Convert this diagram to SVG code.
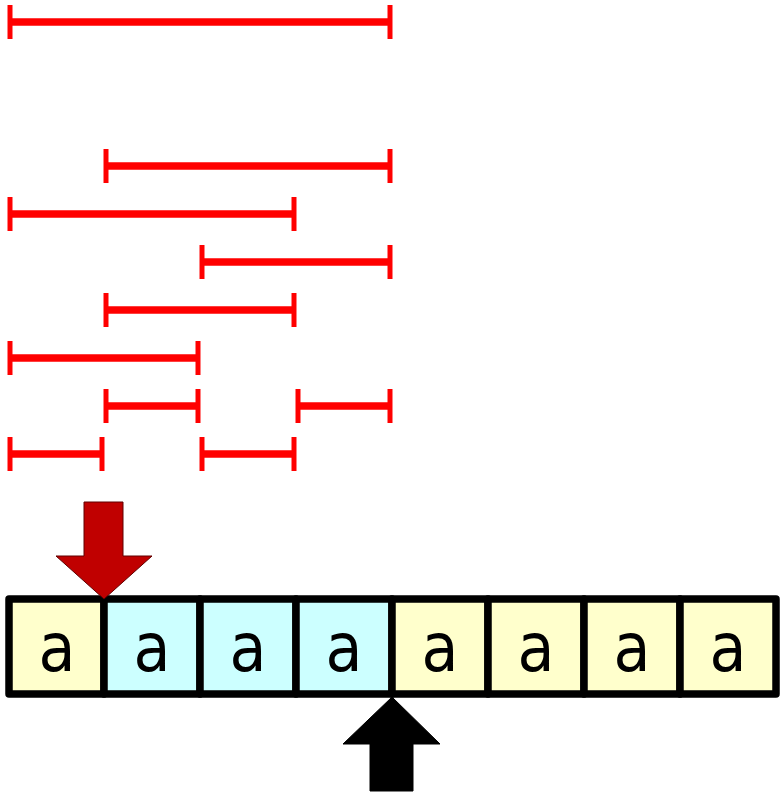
<svg xmlns="http://www.w3.org/2000/svg" width="780" height="795" viewBox="0 0 780 795">
<style>
.seg{stroke:#ff0000;stroke-width:7.5;fill:none}
.tick{stroke:#ff0000;stroke-width:5;fill:none}
.cell{stroke:#000;stroke-width:7.5;stroke-linejoin:round}
.y{fill:#ffffcc}
.c{fill:#ccffff}
.lbl{font-family:"DejaVu Sans Condensed","DejaVu Sans",sans-serif;font-size:67px;fill:#000;text-anchor:middle}
</style>
<rect width="780" height="795" fill="#fff"/>
<g id="ranges">
<g id="r1"><line class="seg" x1="10" y1="22" x2="390" y2="22"/><line class="tick" x1="10" y1="5" x2="10" y2="39"/><line class="tick" x1="390" y1="5" x2="390" y2="39"/></g>
<g id="r2"><line class="seg" x1="106" y1="166" x2="390" y2="166"/><line class="tick" x1="106" y1="149" x2="106" y2="183"/><line class="tick" x1="390" y1="149" x2="390" y2="183"/></g>
<g id="r3"><line class="seg" x1="10" y1="214" x2="294" y2="214"/><line class="tick" x1="10" y1="197" x2="10" y2="231"/><line class="tick" x1="294" y1="197" x2="294" y2="231"/></g>
<g id="r4"><line class="seg" x1="202" y1="262" x2="390" y2="262"/><line class="tick" x1="202" y1="245" x2="202" y2="279"/><line class="tick" x1="390" y1="245" x2="390" y2="279"/></g>
<g id="r5"><line class="seg" x1="106" y1="310" x2="294" y2="310"/><line class="tick" x1="106" y1="293" x2="106" y2="327"/><line class="tick" x1="294" y1="293" x2="294" y2="327"/></g>
<g id="r6"><line class="seg" x1="10" y1="358" x2="198" y2="358"/><line class="tick" x1="10" y1="341" x2="10" y2="375"/><line class="tick" x1="198" y1="341" x2="198" y2="375"/></g>
<g id="r7a"><line class="seg" x1="106" y1="406" x2="198" y2="406"/><line class="tick" x1="106" y1="389" x2="106" y2="423"/><line class="tick" x1="198" y1="389" x2="198" y2="423"/></g>
<g id="r7b"><line class="seg" x1="298" y1="406" x2="390" y2="406"/><line class="tick" x1="298" y1="389" x2="298" y2="423"/><line class="tick" x1="390" y1="389" x2="390" y2="423"/></g>
<g id="r8a"><line class="seg" x1="10" y1="454" x2="102" y2="454"/><line class="tick" x1="10" y1="437" x2="10" y2="471"/><line class="tick" x1="102" y1="437" x2="102" y2="471"/></g>
<g id="r8b"><line class="seg" x1="202" y1="454" x2="294" y2="454"/><line class="tick" x1="202" y1="437" x2="202" y2="471"/><line class="tick" x1="294" y1="437" x2="294" y2="471"/></g>
</g>
<g id="cells">
<g id="cell0"><rect class="cell y" x="9" y="599" width="95" height="95"/><text class="lbl" x="57" y="671">a</text></g>
<g id="cell1"><rect class="cell c" x="104" y="599" width="96" height="95"/><text class="lbl" x="152" y="671">a</text></g>
<g id="cell2"><rect class="cell c" x="200" y="599" width="96" height="95"/><text class="lbl" x="248" y="671">a</text></g>
<g id="cell3"><rect class="cell c" x="296" y="599" width="96" height="95"/><text class="lbl" x="344" y="671">a</text></g>
<g id="cell4"><rect class="cell y" x="392" y="599" width="96" height="95"/><text class="lbl" x="440" y="671">a</text></g>
<g id="cell5"><rect class="cell y" x="488" y="599" width="96" height="95"/><text class="lbl" x="536" y="671">a</text></g>
<g id="cell6"><rect class="cell y" x="584" y="599" width="96" height="95"/><text class="lbl" x="632" y="671">a</text></g>
<g id="cell7"><rect class="cell y" x="680" y="599" width="96" height="95"/><text class="lbl" x="728" y="671">a</text></g>
</g>
<g id="pointers">
<polygon id="redArrow" points="84,502 123,502 123,556 152,556 104,599 56,556 84,556" fill="#c00000" stroke="#600000" stroke-width="1"/>
<polygon id="blackArrow" points="392,697 440,744 413,744 413,791 370,791 370,744 343,744" fill="#000" stroke="#000" stroke-width="1"/>
</g>
</svg>
